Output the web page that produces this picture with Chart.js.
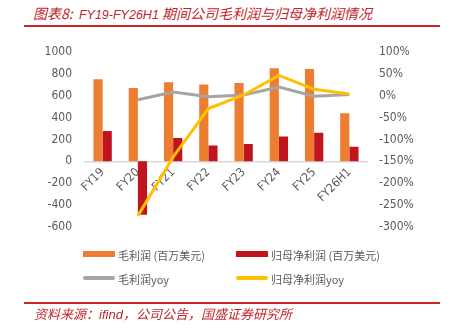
<!DOCTYPE html>
<html>
<head>
<meta charset="utf-8">
<script src="https://cdn.jsdelivr.net/npm/chart.js@4.4.1/dist/chart.umd.min.js"></script>
<style>
  html, body { margin: 0; padding: 0; background: #fff; }
  #wrap { position: relative; width: 451px; height: 329px; overflow: hidden; font-family: "Noto Sans CJK SC", sans-serif; }
  #title { position: absolute; left: 33px; top: 3px; font-size: 14px; font-style: italic; color: #c0272d; white-space: nowrap; }
  #title b { font-family: "Liberation Sans", sans-serif; font-weight: normal; font-size: 12.5px; }
  .rule { position: absolute; left: 24px; width: 416px; height: 2px; background: #c9252b; }
  #chartBox { position: absolute; left: 0; top: 32px; width: 451px; height: 215px; }
  #legend { position: absolute; left: 0; top: 245px; width: 451px; height: 45px; }
  .item { position: absolute; font-size: 11px; color: #595959; white-space: nowrap; line-height: 14px; }
  .sw { position: absolute; }
  #source { position: absolute; left: 34px; top: 304px; font-size: 13px; font-style: italic; color: #c0272d; white-space: nowrap; }
  #source b { font-family: "Liberation Sans", sans-serif; font-weight: normal; }
</style>
</head>
<body>
<div id="wrap">
  <div id="title">图表8:&nbsp;&nbsp;<b>FY19-FY26H1</b> 期间公司毛利润与归母净利润情况</div>
  <div class="rule" style="top:25px"></div>
  <div id="chartBox"><canvas id="c"></canvas></div>
  <div id="legend"></div>
  <div class="rule" style="top:302px"></div>
  <div id="source">资料来源：<b>ifind</b>，公司公告，国盛证券研究所</div>
</div>
<script>
// Fiscal periods
const categories = ['FY19', 'FY20', 'FY21', 'FY22', 'FY23', 'FY24', 'FY25', 'FY26H1'];
// Gross profit and attributable net profit, USD millions
const grossProfit = [752, 672, 724, 703, 718, 852, 846, 441];
const netProfit = [279, -490, 213, 146, 158, 228, 261, 133];
// Year-over-year growth, percent
const grossYoY = [null, -9, 9, -2, 2, 20, -1, 3];
const netYoY = [null, -275, -140, -29, 2, 47, 15, 4];
// Axis ticks
const leftTicks = { min: -600, max: 1000, step: 200 };
const rightTicks = { min: -300, max: 100, step: 50 };

const seriesNames = ['毛利润 (百万美元)', '归母净利润 (百万美元)', '毛利润yoy', '归母净利润yoy'];
const colors = ['#ed7d31', '#c0141e', '#a5a5a5', '#ffc000'];

const tickFont = { family: '"DejaVu Sans Condensed", "DejaVu Sans", sans-serif', size: 12 };

new Chart(document.getElementById('c'), {
  data: {
    labels: categories,
    datasets: [
      { type: 'bar', label: seriesNames[0], data: grossProfit, yAxisID: 'yL', backgroundColor: colors[0], categoryPercentage: 0.52, barPercentage: 1, order: 2 },
      { type: 'bar', label: seriesNames[1], data: netProfit, yAxisID: 'yL', backgroundColor: colors[1], categoryPercentage: 0.52, barPercentage: 1, order: 3 },
      { type: 'line', label: seriesNames[2], data: grossYoY, yAxisID: 'yR', borderColor: colors[2], borderWidth: 3, pointRadius: 0, tension: 0, order: 1 },
      { type: 'line', label: seriesNames[3], data: netYoY, yAxisID: 'yR', borderColor: colors[3], borderWidth: 3, pointRadius: 0, tension: 0, order: 0 }
    ]
  },
  options: {
    responsive: true,
    maintainAspectRatio: false,
    animation: false,
    layout: { padding: { top: 16, left: 0, right: 0, bottom: 12 } },
    plugins: { legend: { display: false }, tooltip: { enabled: false } },
    scales: {
      x: {
        position: { yL: 0 },
        grid: { display: false, drawTicks: false },
        border: { display: true, color: '#d9d9d9', width: 1.5 },
        ticks: { color: '#595959', font: tickFont, maxRotation: 45, minRotation: 45, padding: 4 }
      },
      yL: {
        position: 'left',
        min: leftTicks.min, max: leftTicks.max,
        grid: { display: false, drawTicks: false },
        border: { display: false },
        ticks: { stepSize: leftTicks.step, color: '#595959', font: tickFont, padding: 13, callback: v => String(v) },
        afterFit: s => { s.width = 85; }
      },
      yR: {
        position: 'right',
        min: rightTicks.min, max: rightTicks.max,
        grid: { display: false, drawTicks: false },
        border: { display: false },
        ticks: { stepSize: rightTicks.step, color: '#595959', font: tickFont, padding: 12, callback: v => v + '%' },
        afterFit: s => { s.width = 84; }
      }
    }
  }
});

// Legend: two columns, bars on the first row, lines on the second
const legend = document.getElementById('legend');
const slots = [
  { i: 0, x: 83, y: 3, kind: 'box' },
  { i: 1, x: 236, y: 3, kind: 'box' },
  { i: 2, x: 83, y: 27, kind: 'line' },
  { i: 3, x: 236, y: 27, kind: 'line' }
];
slots.forEach(s => {
  const sw = document.createElement('div');
  sw.className = 'sw';
  sw.style.left = s.x + 'px';
  sw.style.width = '32px';
  sw.style.background = colors[s.i];
  if (s.kind === 'box') { sw.style.top = (s.y + 3) + 'px'; sw.style.height = '6px'; }
  else { sw.style.top = (s.y + 4) + 'px'; sw.style.height = '4px'; sw.style.borderRadius = '2px'; }
  legend.appendChild(sw);
  const t = document.createElement('div');
  t.className = 'item';
  t.style.left = (s.x + 35) + 'px';
  t.style.top = s.y + 'px';
  t.textContent = seriesNames[s.i];
  legend.appendChild(t);
});
</script>
</body>
</html>
